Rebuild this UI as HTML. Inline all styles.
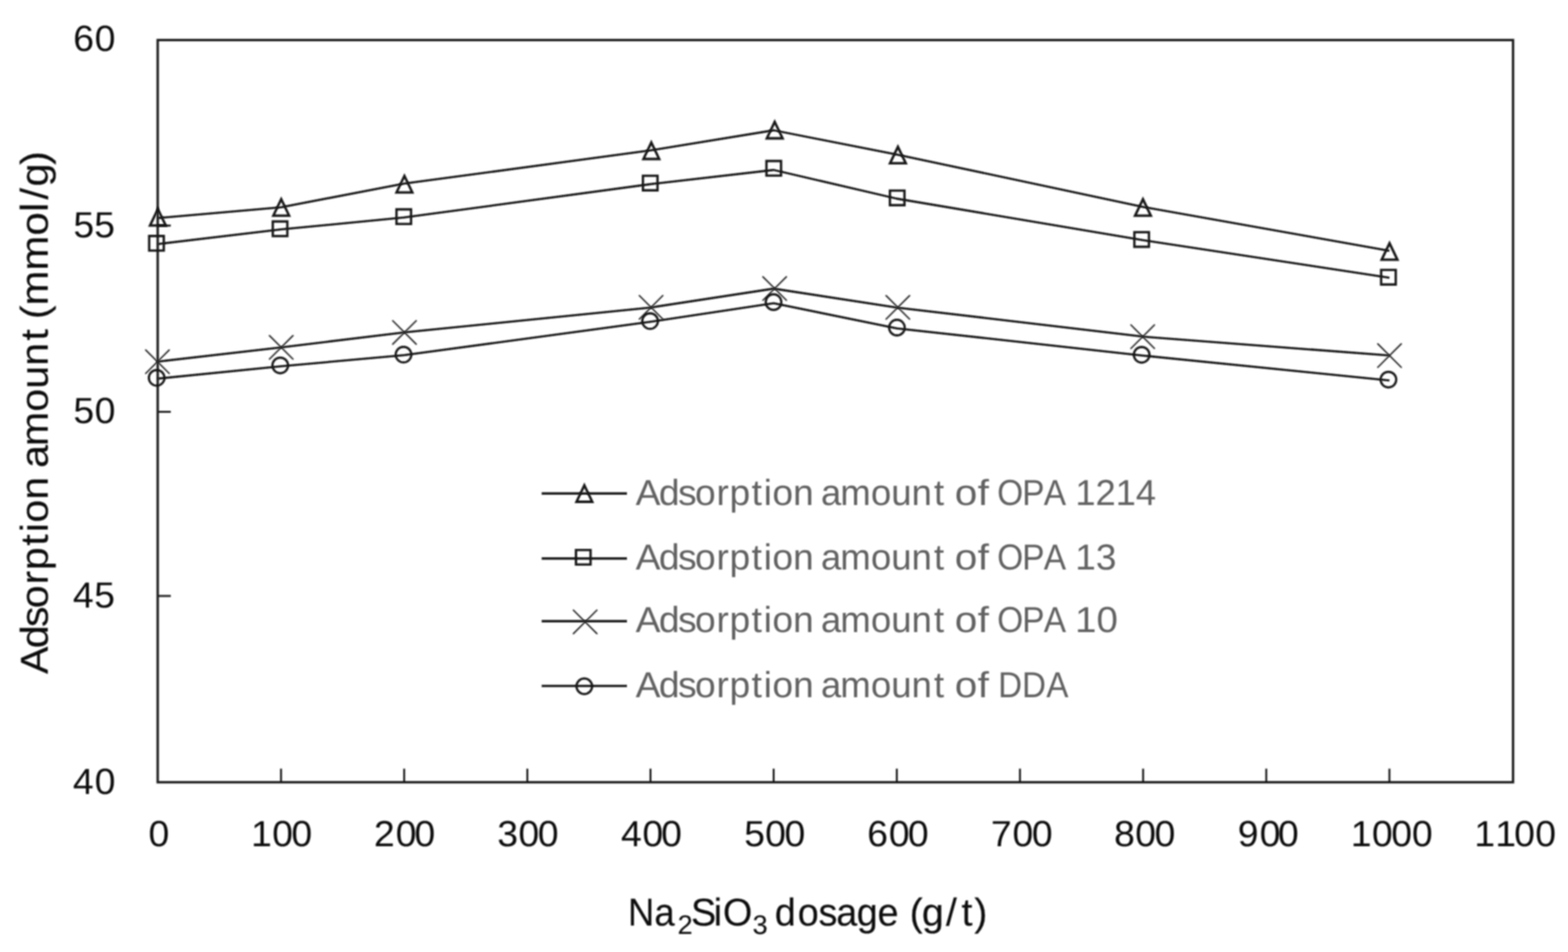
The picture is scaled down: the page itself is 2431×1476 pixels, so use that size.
<!DOCTYPE html>
<html lang="en">
<head>
<meta charset="utf-8">
<title>Adsorption amount vs Na2SiO3 dosage</title>
<style>
html,body{margin:0;padding:0;background:#fff;}
body{width:2431px;height:1476px;}
svg{display:block;}
text{font-family:"Liberation Sans", "DejaVu Sans", sans-serif;font-kerning:none;text-rendering:geometricPrecision;white-space:pre;}
</style>
</head>
<body>
<svg width="2431" height="1476" viewBox="0 0 2431 1476">
<rect x="0" y="0" width="2431" height="1476" fill="#ffffff"/>
<defs>
<filter id="bF" x="-2%" y="-2%" width="104%" height="104%" filterUnits="objectBoundingBox"><feGaussianBlur stdDeviation="0.8"/></filter>
<filter id="bL" x="-2%" y="-5%" width="104%" height="110%"><feGaussianBlur stdDeviation="1.15"/></filter>
<filter id="bM" x="-2%" y="-5%" width="104%" height="110%"><feGaussianBlur stdDeviation="0.9"/></filter>
<filter id="bT" x="-2%" y="-2%" width="104%" height="104%"><feGaussianBlur stdDeviation="0.8"/></filter>
</defs>
<g filter="url(#bF)">
<rect x="244.5" y="62.1" width="2101.3" height="1150.7" fill="none" stroke="#1a1a1a" stroke-width="3.7"/>
<path d="M435.70,1212.8 V1191.8 M626.64,1212.8 V1191.8 M817.58,1212.8 V1191.8 M1008.52,1212.8 V1191.8 M1199.46,1212.8 V1191.8 M1390.40,1212.8 V1191.8 M1581.34,1212.8 V1191.8 M1772.28,1212.8 V1191.8 M1963.22,1212.8 V1191.8 M2154.16,1212.8 V1191.8 M244.5,349.7 H264.8 M244.5,638.6 H264.8 M244.5,924.0 H264.8" fill="none" stroke="#1a1a1a" stroke-width="3.0"/>
</g>
<g filter="url(#bL)">
<polyline points="244.8,338.0 435.7,321.3 626.6,284.7 1008.5,233.2 1199.5,202.0 1390.4,239.6 1772.3,320.8 2154.2,388.8" fill="none" stroke="#141414" stroke-width="3.3" stroke-linejoin="round"/>
<polyline points="244.8,378.4 435.7,355.7 626.6,337.2 1008.5,285.5 1199.5,263.5 1390.4,308.0 1772.3,372.3 2154.2,430.7" fill="none" stroke="#141414" stroke-width="3.3" stroke-linejoin="round"/>
<polyline points="244.8,560.6 435.7,538.6 626.6,515.3 1008.5,476.8 1199.5,447.5 1390.4,476.8 1772.3,521.9 2154.2,551.2" fill="none" stroke="#141414" stroke-width="3.3" stroke-linejoin="round"/>
<polyline points="244.8,587.0 435.7,567.8 626.6,550.7 1008.5,498.9 1199.5,470.2 1390.4,509.1 1772.3,551.3 2154.2,589.8" fill="none" stroke="#141414" stroke-width="3.3" stroke-linejoin="round"/>
</g>
<g filter="url(#bF)">
<path d="M839.8,765.2 H972.0 M839.8,865.8 H972.0 M839.8,963.1 H972.0 M839.8,1063.5 H972.0" fill="none" stroke="#141414" stroke-width="3.7"/>
</g>
<g filter="url(#bM)">
<path d="M244.8,324.2 L257.0,349.7 H232.6 Z M436.0,308.8 L448.2,334.3 H423.8 Z M627.0,272.8 L639.2,298.3 H614.8 Z M1009.8,221.0 L1022.0,246.5 H997.6 Z M1201.1,189.0 L1213.3,214.5 H1188.9 Z M1392.1,227.6 L1404.3,253.1 H1379.9 Z M1772.0,308.9 L1784.2,334.4 H1759.8 Z M2154.3,377.1 L2166.5,402.6 H2142.1 Z M906.0,752.5 L918.2,778.0 H893.8 Z" fill="none" stroke="#141414" stroke-width="3.8" stroke-linejoin="miter"/>
<path d="M231.3,365.9 H253.9 V388.5 H231.3 Z M422.9,343.4 H445.5 V366.0 H422.9 Z M614.7,324.6 H637.3 V347.2 H614.7 Z M996.8,272.5 H1019.4 V295.1 H996.8 Z M1188.3,249.6 H1210.9 V272.2 H1188.3 Z M1379.7,295.5 H1402.3 V318.1 H1379.7 Z M1758.7,360.0 H1781.3 V382.6 H1758.7 Z M2141.3,418.5 H2163.9 V441.1 H2141.3 Z M893.0,852.7 H915.6 V875.3 H893.0 Z" fill="none" stroke="#141414" stroke-width="3.6" stroke-linejoin="miter"/>
<path d="M225.9,542.6 L262.3,579.0 M225.9,579.0 L262.3,542.6 M417.8,520.4 L454.2,556.8 M417.8,556.8 L454.2,520.4 M608.9,497.2 L645.3,533.6 M608.9,533.6 L645.3,497.2 M991.2,458.3 L1027.6,494.7 M991.2,494.7 L1027.6,458.3 M1182.8,429.1 L1219.2,465.5 M1182.8,465.5 L1219.2,429.1 M1373.8,458.4 L1410.2,494.8 M1373.8,494.8 L1410.2,458.4 M1753.4,503.8 L1789.8,540.2 M1753.4,540.2 L1789.8,503.8 M2136.1,533.1 L2172.5,569.5 M2136.1,569.5 L2172.5,533.1 M889.0,946.0 L925.4,982.4 M889.0,982.4 L925.4,946.0" fill="none" stroke="#2c2c2c" stroke-width="2.3" stroke-linecap="round"/>
<circle cx="242.9" cy="585.8" r="12.1" fill="none" stroke="#141414" stroke-width="3.4"/>
<circle cx="434.5" cy="566.6" r="12.1" fill="none" stroke="#141414" stroke-width="3.4"/>
<circle cx="625.6" cy="549.8" r="12.1" fill="none" stroke="#141414" stroke-width="3.4"/>
<circle cx="1007.9" cy="497.8" r="12.1" fill="none" stroke="#141414" stroke-width="3.4"/>
<circle cx="1199.3" cy="468.4" r="12.1" fill="none" stroke="#141414" stroke-width="3.4"/>
<circle cx="1390.6" cy="507.9" r="12.1" fill="none" stroke="#141414" stroke-width="3.4"/>
<circle cx="1770.0" cy="550.1" r="12.1" fill="none" stroke="#141414" stroke-width="3.4"/>
<circle cx="2152.6" cy="588.6" r="12.1" fill="none" stroke="#141414" stroke-width="3.4"/>
<circle cx="905.9" cy="1064.0" r="12.1" fill="none" stroke="#141414" stroke-width="3.4"/>
</g>
<g filter="url(#bT)">
<text transform="translate(0,79.40) scale(1.0250,1)" x="110.63 143.12" y="0" font-size="56.50" fill="#111111">60</text>
<text transform="translate(0,368.00) scale(1.0250,1)" x="110.88 142.39" y="0" font-size="56.50" fill="#111111">55</text>
<text transform="translate(0,656.40) scale(1.0250,1)" x="110.88 143.12" y="0" font-size="56.50" fill="#111111">50</text>
<text transform="translate(0,941.50) scale(1.0250,1)" x="110.32 142.39" y="0" font-size="56.50" fill="#111111">45</text>
<text transform="translate(0,1230.60) scale(1.0250,1)" x="110.32 143.12" y="0" font-size="56.50" fill="#111111">40</text>
<text transform="translate(0,1311.60) scale(1.0250,1)" x="224.58" y="0" font-size="56.50" fill="#111111">0</text>
<text transform="translate(0,1311.60) scale(1.0250,1)" x="379.71 411.80 440.68" y="0" font-size="56.50" fill="#111111">100</text>
<text transform="translate(0,1311.60) scale(1.0250,1)" x="565.56 598.44 626.83" y="0" font-size="56.50" fill="#111111">200</text>
<text transform="translate(0,1311.60) scale(1.0250,1)" x="752.26 784.09 813.36" y="0" font-size="56.50" fill="#111111">300</text>
<text transform="translate(0,1311.60) scale(1.0250,1)" x="939.30 971.61 999.90" y="0" font-size="56.50" fill="#111111">400</text>
<text transform="translate(0,1311.60) scale(1.0250,1)" x="1125.61 1157.36 1186.63" y="0" font-size="56.50" fill="#111111">500</text>
<text transform="translate(0,1311.60) scale(1.0250,1)" x="1311.80 1344.39 1373.07" y="0" font-size="56.50" fill="#111111">600</text>
<text transform="translate(0,1311.60) scale(1.0250,1)" x="1498.80 1531.51 1560.68" y="0" font-size="56.50" fill="#111111">700</text>
<text transform="translate(0,1311.60) scale(1.0250,1)" x="1685.07 1717.07 1746.34" y="0" font-size="56.50" fill="#111111">800</text>
<text transform="translate(0,1311.60) scale(1.0250,1)" x="1872.30 1905.27 1932.87" y="0" font-size="56.50" fill="#111111">900</text>
<text transform="translate(0,1311.60) scale(1.0250,1)" x="2043.22 2075.22 2104.29 2135.70" y="0" font-size="56.50" fill="#111111">1000</text>
<text transform="translate(0,1311.60) scale(1.0250,1)" x="2230.05 2261.76 2290.14 2322.24" y="0" font-size="56.50" fill="#111111">1100</text>
<g class="label"><text transform="translate(0,1435.10) scale(0.9434,1)" x="1031.79 1075.34" y="0" font-size="60.17" fill="#111111" stroke="#111111" stroke-width="0.20" stroke-linejoin="round">Na</text><text transform="translate(0,1447.50) scale(1.0127,1)" x="1037.32" y="0" font-size="41.53" fill="#111111" stroke="#111111" stroke-width="0.20" stroke-linejoin="round">2</text><text transform="translate(0,1435.10) scale(0.9766,1)" x="1096.82 1132.90 1147.70" y="0" font-size="60.17" fill="#111111" stroke="#111111" stroke-width="0.20" stroke-linejoin="round">SiO</text><text transform="translate(0,1447.50) scale(1.0127,1)" x="1152.18" y="0" font-size="41.53" fill="#111111" stroke="#111111" stroke-width="0.20" stroke-linejoin="round">3</text> <text transform="translate(0,1435.10) scale(0.9735,1)" x="1233.88 1270.50 1303.66 1331.79 1364.34 1397.65" y="0" font-size="60.17" fill="#111111" stroke="#111111" stroke-width="0.20" stroke-linejoin="round">dosage</text> <text transform="translate(0,1435.10) scale(1.0154,1)" x="1388.77 1407.63 1444.32 1468.15 1487.58" y="0" font-size="60.17" fill="#111111" stroke="#111111" stroke-width="0.20" stroke-linejoin="round">(g/t)</text></g>
<g class="label"><text transform="translate(74.30,1043.90) rotate(-90) scale(1.0620,1)" x="-0.95 36.65 67.47 94.98 129.54 150.61 186.34 205.96 219.97 253.42" y="0" font-size="60.17" fill="#111111" stroke="#111111" stroke-width="0.20" stroke-linejoin="round">Adsorption</text> <text transform="translate(74.30,722.10) rotate(-90) scale(1.0626,1)" x="-3.19 28.46 78.95 112.41 145.82 182.63" y="0" font-size="60.17" fill="#111111" stroke="#111111" stroke-width="0.20" stroke-linejoin="round">amount</text> <text transform="translate(74.30,490.80) rotate(-90) scale(1.0796,1)" x="-3.87 15.71 66.12 116.29 150.22 167.97 186.64 217.63" y="0" font-size="60.17" fill="#111111" stroke="#111111" stroke-width="0.20" stroke-linejoin="round">(mmol/g)</text></g>
<g class="label"><text transform="translate(0,782.90) scale(1.0283,1)" x="958.45 993.51 1022.25 1047.90 1080.12 1099.77 1133.08 1151.37 1164.43 1195.62" y="0" font-size="56.10" fill="#626262">Adsorption</text> <text transform="translate(0,782.90) scale(1.0109,1)" x="1259.14 1288.65 1335.72 1366.93 1398.07 1432.39" y="0" font-size="56.10" fill="#626262">amount</text> <text transform="translate(0,782.90) scale(1.1200,1)" x="1321.75 1353.36" y="0" font-size="56.10" fill="#626262">of</text> <text transform="translate(0,782.90) scale(0.9252,1)" x="1670.94 1712.89 1749.16" y="0" font-size="56.10" fill="#626262">OPA</text> <text transform="translate(0,782.90) scale(1.0026,1)" x="1662.83 1694.03 1725.24 1756.44" y="0" font-size="56.10" fill="#626262">1214</text></g>
<g class="label"><text transform="translate(0,882.90) scale(1.0283,1)" x="958.45 993.51 1022.25 1047.90 1080.12 1099.77 1133.08 1151.37 1164.43 1195.62" y="0" font-size="56.10" fill="#626262">Adsorption</text> <text transform="translate(0,882.90) scale(1.0109,1)" x="1259.14 1288.65 1335.72 1366.93 1398.07 1432.39" y="0" font-size="56.10" fill="#626262">amount</text> <text transform="translate(0,882.90) scale(1.1200,1)" x="1321.75 1353.36" y="0" font-size="56.10" fill="#626262">of</text> <text transform="translate(0,882.90) scale(0.9252,1)" x="1670.94 1712.89 1749.16" y="0" font-size="56.10" fill="#626262">OPA</text> <text transform="translate(0,882.90) scale(1.0240,1)" x="1628.02 1659.22" y="0" font-size="56.10" fill="#626262">13</text></g>
<g class="label"><text transform="translate(0,980.40) scale(1.0283,1)" x="958.45 993.51 1022.25 1047.90 1080.12 1099.77 1133.08 1151.37 1164.43 1195.62" y="0" font-size="56.10" fill="#626262">Adsorption</text> <text transform="translate(0,980.40) scale(1.0109,1)" x="1259.14 1288.65 1335.72 1366.93 1398.07 1432.39" y="0" font-size="56.10" fill="#626262">amount</text> <text transform="translate(0,980.40) scale(1.1200,1)" x="1321.75 1353.36" y="0" font-size="56.10" fill="#626262">of</text> <text transform="translate(0,980.40) scale(0.9252,1)" x="1670.94 1712.89 1749.16" y="0" font-size="56.10" fill="#626262">OPA</text> <text transform="translate(0,980.40) scale(1.0636,1)" x="1567.13 1598.33" y="0" font-size="56.10" fill="#626262">10</text></g>
<g class="label"><text transform="translate(0,1080.90) scale(1.0283,1)" x="958.45 993.51 1022.25 1047.90 1080.12 1099.77 1133.08 1151.37 1164.43 1195.62" y="0" font-size="56.10" fill="#626262">Adsorption</text> <text transform="translate(0,1080.90) scale(1.0109,1)" x="1259.14 1288.65 1335.72 1366.93 1398.07 1432.39" y="0" font-size="56.10" fill="#626262">amount</text> <text transform="translate(0,1080.90) scale(1.1200,1)" x="1321.75 1353.36" y="0" font-size="56.10" fill="#626262">of</text> <text transform="translate(0,1080.90) scale(0.9168,1)" x="1687.89 1728.41 1769.43" y="0" font-size="56.10" fill="#626262">DDA</text></g>
</g>
</svg>
</body>
</html>
